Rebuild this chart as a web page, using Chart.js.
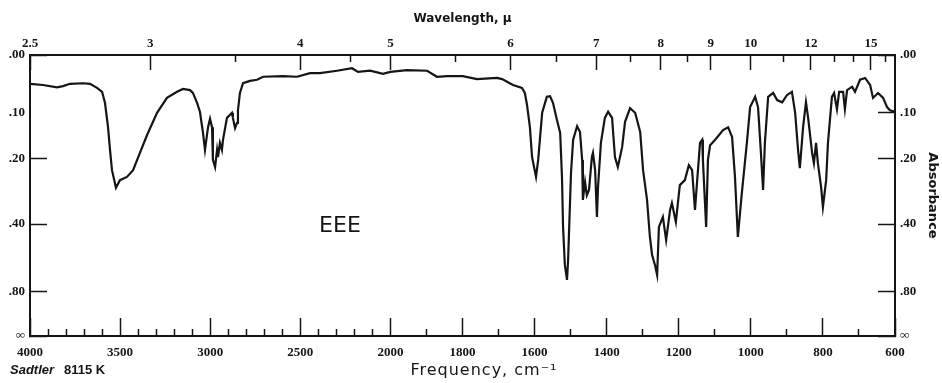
<!DOCTYPE html>
<html>
<head>
<meta charset="utf-8">
<script src="https://cdn.jsdelivr.net/npm/chart.js@4.4.1/dist/chart.umd.min.js"></script>
<style>
  html, body { margin: 0; padding: 0; background: #fff; }
</style>
</head>
<body>
<canvas id="spectrum" width="942" height="383"></canvas>
<script>
// Trace: frequency in cm-1, absorbance at that frequency
const frequency = [
  4000, 3928, 3850, 3817, 3778, 3706, 3667, 3628, 3600, 3584, 3567, 3556, 3545, 3523, 3501,
  3462, 3428, 3390, 3351, 3295, 3240, 3184, 3151, 3112, 3096, 3073, 3057, 3040, 3029, 3012,
  3001, 2990, 2985, 2973, 2962, 2957, 2946, 2935, 2929, 2907, 2890, 2879, 2874, 2862, 2851,
  2846, 2835, 2818, 2779, 2740, 2707, 2596, 2518, 2446, 2391, 2296, 2213, 2180, 2113, 2041,
  2001, 1954, 1898, 1871, 1843, 1799, 1760, 1704, 1690, 1660, 1635, 1627, 1621, 1613, 1607,
  1596, 1590, 1579, 1566, 1557, 1549, 1538, 1529, 1524, 1521, 1516, 1510, 1507, 1499, 1493,
  1482, 1474, 1468, 1466, 1460, 1455, 1449, 1441, 1438, 1432, 1427, 1424, 1416, 1405, 1396,
  1385, 1377, 1369, 1357, 1349, 1335, 1321, 1307, 1299, 1288, 1280, 1274, 1266, 1260, 1255,
  1244, 1235, 1224, 1219, 1208, 1197, 1183, 1172, 1163, 1155, 1141, 1135, 1133, 1124, 1119,
  1113, 1099, 1077, 1063, 1052, 1044, 1036, 1025, 1011, 1002, 988, 980, 972, 966, 961,
  952, 938, 927, 913, 900, 886, 877, 869, 864, 855, 847, 841, 830, 825, 819,
  814, 805, 800, 791, 786, 775, 769, 761, 755, 744, 739, 733, 719, 711, 697,
  683, 669, 661, 647, 633, 622, 614, 600
];
const absorbance = [
  0.047, 0.049, 0.053, 0.051, 0.047, 0.046, 0.047, 0.054, 0.061, 0.081, 0.129, 0.179, 0.229, 0.278, 0.256,
  0.247, 0.229, 0.186, 0.146, 0.100, 0.072, 0.061, 0.056, 0.058, 0.063, 0.081, 0.098, 0.141, 0.179, 0.129,
  0.112, 0.129, 0.203, 0.221, 0.179, 0.196, 0.163, 0.179, 0.156, 0.110, 0.104, 0.100, 0.110, 0.131, 0.120,
  0.095, 0.063, 0.046, 0.042, 0.040, 0.035, 0.034, 0.035, 0.029, 0.029, 0.025, 0.021, 0.027, 0.025, 0.030,
  0.027, 0.024, 0.025, 0.035, 0.034, 0.034, 0.039, 0.037, 0.039, 0.049, 0.054, 0.063, 0.085, 0.129, 0.196,
  0.247, 0.203, 0.100, 0.070, 0.069, 0.081, 0.114, 0.141, 0.247, 0.411, 0.597, 0.700, 0.568, 0.237, 0.156,
  0.127, 0.139, 0.203, 0.315, 0.261, 0.300, 0.284, 0.196, 0.186, 0.229, 0.373, 0.276, 0.163, 0.110, 0.098,
  0.110, 0.196, 0.221, 0.172, 0.118, 0.091, 0.100, 0.139, 0.229, 0.315, 0.453, 0.540, 0.597, 0.663, 0.411,
  0.373, 0.467, 0.348, 0.325, 0.392, 0.270, 0.256, 0.216, 0.229, 0.348, 0.163, 0.156, 0.203, 0.411, 0.203,
  0.168, 0.156, 0.135, 0.129, 0.150, 0.247, 0.453, 0.294, 0.163, 0.089, 0.070, 0.089, 0.186, 0.284, 0.163,
  0.070, 0.063, 0.076, 0.080, 0.067, 0.061, 0.100, 0.179, 0.224, 0.129, 0.080, 0.110, 0.186, 0.211, 0.163,
  0.211, 0.276, 0.338, 0.256, 0.163, 0.070, 0.063, 0.093, 0.061, 0.061, 0.093, 0.058, 0.052, 0.061, 0.040,
  0.037, 0.049, 0.072, 0.063, 0.072, 0.089, 0.095, 0.098
];

// Axis ticks
const freqMajor = [4000, 3500, 3000, 2500, 2000, 1800, 1600, 1400, 1200, 1000, 800, 600];
const freqMinor = [
  3900, 3800, 3700, 3600, 3400, 3300, 3200, 3100, 2900, 2800, 2700, 2600, 2400, 2300, 2200, 2100,
  1900, 1700, 1500, 1300, 1100, 900, 700
];
const waveMajor = [2.5, 3, 4, 5, 6, 7, 8, 9, 10, 12, 15];
const waveMinor = [3.5, 4.5, 5.5, 6.5, 7.5, 8.5, 11, 13, 14, 16];
const absTicks = [0, 0.1, 0.2, 0.4, 0.8, Infinity];
const absLabels = ['.00', '.10', '.20', '.40', '.80', '\u221e'];

// Grating chart: 4000-2000 cm-1 runs at half the dispersion of 2000-600 cm-1
class WavenumberScale extends Chart.Scale {
  static id = 'wavenumber';
  static defaults = {};
  determineDataLimits() { this.min = 600; this.max = 4000; }
  buildTicks() { return []; }
  getLabelForValue(v) { return String(v); }
  getPixelForValue(v) {
    const units = v >= 2000 ? (4000 - v) / 2 : 1000 + (2000 - v);
    return this.getPixelForDecimal(units / 2400);
  }
  getValueForPixel(p) {
    const units = this.getDecimalForPixel(p) * 2400;
    return units <= 1000 ? 4000 - units * 2 : 3000 - units;
  }
}

// Absorbance axis, spaced linearly in transmittance (A = -log T)
class AbsorbanceScale extends Chart.Scale {
  static id = 'absorbance';
  static defaults = {};
  determineDataLimits() { this.min = 0; this.max = 2; }
  buildTicks() { return absTicks.map(value => ({ value })); }
  getLabelForValue(v) { return String(v); }
  getPixelForValue(v) { return this.getPixelForDecimal(Math.pow(10, -v)); }
  getValueForPixel(p) { return -Math.log10(this.getDecimalForPixel(p)); }
}

Chart.register(WavenumberScale, AbsorbanceScale);

const INK = '#151515';
const tickFont = { family: '"Liberation Serif", serif', size: 13, weight: 'bold' };

function freqAxis(position, values, tickLen, labels, weight) {
  return {
    type: 'wavenumber',
    axis: 'x',
    position,
    weight,
    afterBuildTicks: s => { s.ticks = values.map(value => ({ value })); },
    afterFit: s => {
      s.height = labels ? (position === 'top' ? 55 : 47) : 0;
      s.paddingLeft = 0;
      s.paddingRight = 0;
    },
    grid: { display: true, drawOnChartArea: false, drawTicks: true, tickLength: -tickLen, tickColor: INK, tickWidth: 1.5 },
    border: { display: !!labels, color: INK, width: 2 },
    ticks: {
      display: !!labels,
      autoSkip: false,
      maxRotation: 0,
      color: INK,
      font: tickFont,
      padding: position === 'top' ? tickLen + 4 : tickLen + 9,
      callback: (v, i) => labels ? labels[i] : ''
    }
  };
}

function absAxis(position) {
  return {
    type: 'absorbance',
    axis: 'y',
    position,
    afterFit: s => {
      s.width = position === 'left' ? 30 : 47;
      s.paddingTop = 0;
      s.paddingBottom = 0;
    },
    grid: {
      display: true,
      drawOnChartArea: false,
      drawTicks: true,
      tickLength: -17,
      // the left edge carries no mark at .10
      tickColor: c => (position === 'left' && c.index === 1 ? 'rgba(0,0,0,0)' : INK),
      tickWidth: 1.5
    },
    border: { display: true, color: INK, width: 2 },
    ticks: {
      autoSkip: false,
      color: INK,
      font: tickFont,
      padding: 22,
      callback: (v, i) => absLabels[i]
    },
    title: position === 'right' ? {
      display: true,
      text: 'Absorbance',
      color: INK,
      font: { family: '"DejaVu Sans", sans-serif', size: 13, weight: 'bold' },
      padding: { top: 2, bottom: 0 }
    } : { display: false }
  };
}

// Captions outside the axes and the compound code inside the plot
const captions = {
  id: 'captions',
  afterDraw(chart) {
    const { ctx, scales } = chart;
    ctx.save();
    ctx.fillStyle = INK;
    ctx.textBaseline = 'middle';
    ctx.textAlign = 'center';
    ctx.font = '22px "DejaVu Sans", sans-serif';
    ctx.fillText('EEE', scales.x.getPixelForValue(2280), scales.y.getPixelForValue(0.41));

    ctx.font = '16px "DejaVu Sans", sans-serif';
    ctx.letterSpacing = '1px';
    ctx.fillText('Frequency, cm\u207b\u00b9', 484, 371);
    ctx.letterSpacing = '0px';

    ctx.textAlign = 'left';
    ctx.font = 'italic bold 13px "Liberation Sans", sans-serif';
    ctx.fillText('Sadtler', 10, 370);
    ctx.font = 'bold 13px "Liberation Sans", sans-serif';
    ctx.fillText('8115 K', 64, 370);
    ctx.restore();
  }
};

new Chart(document.getElementById('spectrum'), {
  type: 'line',
  data: {
    datasets: [{
      data: frequency.map((f, i) => ({ x: f, y: absorbance[i] })),
      xAxisID: 'x',
      yAxisID: 'y',
      borderColor: INK,
      borderWidth: 2.2,
      pointRadius: 0,
      tension: 0,
      fill: false
    }]
  },
  options: {
    responsive: false,
    devicePixelRatio: 1,
    animation: false,
    layout: { padding: 0 },
    plugins: { legend: { display: false }, tooltip: { enabled: false } },
    scales: {
      xMinor: freqAxis('bottom', freqMinor, 7, null, 0),
      x: freqAxis('bottom', freqMajor, 18, freqMajor.map(String), 1),
      topMinor: freqAxis('top', waveMinor.map(w => 10000 / w), 7, null, 0),
      top: Object.assign(freqAxis('top', waveMajor.map(w => 10000 / w), 15, waveMajor.map(String), 1), {
        title: {
          display: true,
          text: 'Wavelength, \u03bc',
          color: INK,
          font: { family: '"DejaVu Sans", sans-serif', size: 12, weight: 'bold' },
          padding: { top: 12, bottom: 0 }
        }
      }),
      y: absAxis('left'),
      yRight: absAxis('right')
    }
  },
  plugins: [captions]
});
</script>
</body>
</html>
